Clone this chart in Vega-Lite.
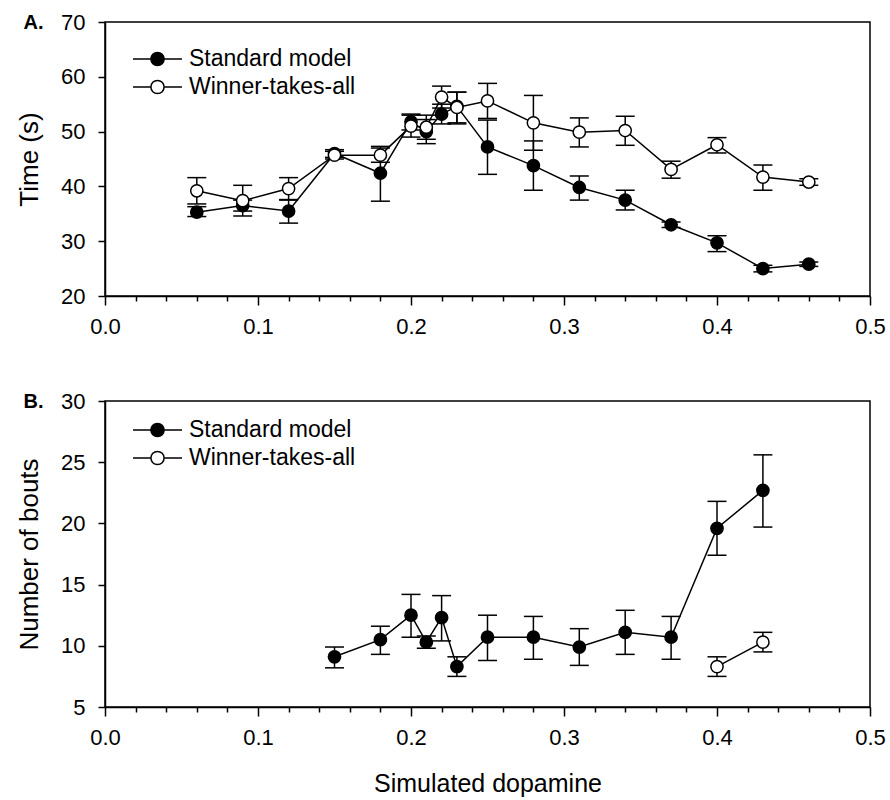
{
  "$schema": "https://vega.github.io/schema/vega-lite/v6.json",
  "padding": {"left": 15, "top": 10, "right": 5, "bottom": 0},
  "background": "white",
  "datasets": {
    "a": [
      {"dopamine": 0.06, "value": 35.3, "lo": 34.5, "hi": 36.3, "series": "Standard model"},
      {"dopamine": 0.09, "value": 36.5, "lo": 35.5, "hi": 37.5, "series": "Standard model"},
      {"dopamine": 0.12, "value": 35.5, "lo": 33.3, "hi": 37.5, "series": "Standard model"},
      {"dopamine": 0.15, "value": 46.0, "lo": 45.3, "hi": 46.7, "series": "Standard model"},
      {"dopamine": 0.18, "value": 42.4, "lo": 37.3, "hi": 47.3, "series": "Standard model"},
      {"dopamine": 0.20, "value": 51.8, "lo": 50.3, "hi": 53.2, "series": "Standard model"},
      {"dopamine": 0.21, "value": 50.0, "lo": 47.8, "hi": 52.2, "series": "Standard model"},
      {"dopamine": 0.22, "value": 53.2, "lo": 51.4, "hi": 55.0, "series": "Standard model"},
      {"dopamine": 0.23, "value": 54.6, "lo": 51.4, "hi": 57.2, "series": "Standard model"},
      {"dopamine": 0.25, "value": 47.2, "lo": 42.2, "hi": 52.1, "series": "Standard model"},
      {"dopamine": 0.28, "value": 43.8, "lo": 39.3, "hi": 48.3, "series": "Standard model"},
      {"dopamine": 0.31, "value": 39.8, "lo": 37.5, "hi": 41.9, "series": "Standard model"},
      {"dopamine": 0.34, "value": 37.5, "lo": 35.7, "hi": 39.3, "series": "Standard model"},
      {"dopamine": 0.37, "value": 33.0, "lo": 32.5, "hi": 33.5, "series": "Standard model"},
      {"dopamine": 0.40, "value": 29.7, "lo": 28.1, "hi": 31.0, "series": "Standard model"},
      {"dopamine": 0.43, "value": 25.0, "lo": 24.4, "hi": 25.6, "series": "Standard model"},
      {"dopamine": 0.46, "value": 25.8, "lo": 25.4, "hi": 26.2, "series": "Standard model"},
      {"dopamine": 0.06, "value": 39.2, "lo": 36.8, "hi": 41.6, "series": "Winner-takes-all"},
      {"dopamine": 0.09, "value": 37.4, "lo": 34.6, "hi": 40.2, "series": "Winner-takes-all"},
      {"dopamine": 0.12, "value": 39.6, "lo": 37.6, "hi": 41.6, "series": "Winner-takes-all"},
      {"dopamine": 0.15, "value": 45.7, "lo": 45.0, "hi": 46.4, "series": "Winner-takes-all"},
      {"dopamine": 0.18, "value": 45.7, "lo": 44.4, "hi": 47.0, "series": "Winner-takes-all"},
      {"dopamine": 0.20, "value": 51.0, "lo": 49.0, "hi": 53.0, "series": "Winner-takes-all"},
      {"dopamine": 0.21, "value": 50.8, "lo": 48.6, "hi": 53.0, "series": "Winner-takes-all"},
      {"dopamine": 0.22, "value": 56.3, "lo": 54.3, "hi": 58.3, "series": "Winner-takes-all"},
      {"dopamine": 0.23, "value": 54.4, "lo": 51.6, "hi": 57.2, "series": "Winner-takes-all"},
      {"dopamine": 0.25, "value": 55.6, "lo": 52.4, "hi": 58.8, "series": "Winner-takes-all"},
      {"dopamine": 0.28, "value": 51.6, "lo": 46.6, "hi": 56.6, "series": "Winner-takes-all"},
      {"dopamine": 0.31, "value": 49.9, "lo": 47.2, "hi": 52.5, "series": "Winner-takes-all"},
      {"dopamine": 0.34, "value": 50.2, "lo": 47.5, "hi": 52.8, "series": "Winner-takes-all"},
      {"dopamine": 0.37, "value": 43.1, "lo": 41.5, "hi": 44.6, "series": "Winner-takes-all"},
      {"dopamine": 0.40, "value": 47.6, "lo": 46.1, "hi": 48.9, "series": "Winner-takes-all"},
      {"dopamine": 0.43, "value": 41.7, "lo": 39.3, "hi": 43.9, "series": "Winner-takes-all"},
      {"dopamine": 0.46, "value": 40.8, "lo": 40.2, "hi": 41.4, "series": "Winner-takes-all"}
    ],
    "b": [
      {"dopamine": 0.15, "value": 9.1, "lo": 8.2, "hi": 9.9, "series": "Standard model"},
      {"dopamine": 0.18, "value": 10.5, "lo": 9.3, "hi": 11.6, "series": "Standard model"},
      {"dopamine": 0.20, "value": 12.5, "lo": 10.7, "hi": 14.2, "series": "Standard model"},
      {"dopamine": 0.21, "value": 10.3, "lo": 9.8, "hi": 10.8, "series": "Standard model"},
      {"dopamine": 0.22, "value": 12.3, "lo": 10.4, "hi": 14.1, "series": "Standard model"},
      {"dopamine": 0.23, "value": 8.3, "lo": 7.5, "hi": 9.1, "series": "Standard model"},
      {"dopamine": 0.25, "value": 10.7, "lo": 8.8, "hi": 12.5, "series": "Standard model"},
      {"dopamine": 0.28, "value": 10.7, "lo": 8.9, "hi": 12.4, "series": "Standard model"},
      {"dopamine": 0.31, "value": 9.9, "lo": 8.4, "hi": 11.4, "series": "Standard model"},
      {"dopamine": 0.34, "value": 11.1, "lo": 9.3, "hi": 12.9, "series": "Standard model"},
      {"dopamine": 0.37, "value": 10.7, "lo": 8.9, "hi": 12.4, "series": "Standard model"},
      {"dopamine": 0.40, "value": 19.6, "lo": 17.4, "hi": 21.8, "series": "Standard model"},
      {"dopamine": 0.43, "value": 22.7, "lo": 19.7, "hi": 25.6, "series": "Standard model"},
      {"dopamine": 0.40, "value": 8.3, "lo": 7.5, "hi": 9.1, "series": "Winner-takes-all"},
      {"dopamine": 0.43, "value": 10.3, "lo": 9.5, "hi": 11.1, "series": "Winner-takes-all"}
    ]
  },
  "vconcat": [
    {
      "width": 765,
      "height": 274,
      "data": {"name": "a"},
      "title": {"text": "A.", "anchor": "start", "frame": "bounds", "fontSize": 20, "fontWeight": "bold", "offset": -22, "dx": 7},
      "encoding": {
        "x": {"field": "dopamine", "type": "quantitative", "scale": {"domain": [0, 0.5], "nice": false, "zero": false},
          "axis": {"title": null, "values": [0,0.02,0.04,0.06,0.08,0.1,0.12,0.14,0.16,0.18,0.2,0.22,0.24,0.26,0.28,0.3,0.32,0.34,0.36,0.38,0.4,0.42,0.44,0.46,0.48,0.5],
            "labelExpr": "abs(datum.value*10 - round(datum.value*10)) < 0.001 ? format(datum.value, '.1f') : ''",
            "tickSize": {"condition": {"test": "abs(datum.value*10 - round(datum.value*10)) < 0.001", "value": 9}, "value": 5}}}
      },
      "layer": [
        {"transform": [{"filter": "datum.series == 'Standard model'"}], "mark": {"type": "line", "color": "black", "strokeWidth": 1.5},
          "encoding": {"y": {"field": "value", "type": "quantitative", "scale": {"domain": [20, 70], "nice": false, "zero": false},
            "axis": {"title": "Time (s)", "values": [20,30,40,50,60,70]}}}},
        {"transform": [{"filter": "datum.series == 'Winner-takes-all'"}], "mark": {"type": "line", "color": "black", "strokeWidth": 1.5},
          "encoding": {"y": {"field": "value", "type": "quantitative"}}},
        {"transform": [{"filter": "datum.series == 'Standard model'"}], "mark": {"type": "rule", "color": "black", "strokeWidth": 1.5},
          "encoding": {"y": {"field": "lo", "type": "quantitative"}, "y2": {"field": "hi"}}},
        {"transform": [{"filter": "datum.series == 'Standard model'"}], "mark": {"type": "tick", "orient": "horizontal", "color": "black", "size": 19, "thickness": 1.5, "opacity": 1},
          "encoding": {"y": {"field": "lo", "type": "quantitative"}}},
        {"transform": [{"filter": "datum.series == 'Standard model'"}], "mark": {"type": "tick", "orient": "horizontal", "color": "black", "size": 19, "thickness": 1.5, "opacity": 1},
          "encoding": {"y": {"field": "hi", "type": "quantitative"}}},
        {"transform": [{"filter": "datum.series == 'Standard model'"}], "mark": {"type": "point", "shape": "circle", "filled": false, "stroke": "black", "strokeWidth": 1.5, "size": 150, "opacity": 1},
          "encoding": {"y": {"field": "value", "type": "quantitative"},
            "fill": {"field": "series", "type": "nominal", "scale": {"domain": ["Standard model", "Winner-takes-all"], "range": ["black", "white"]},
              "legend": {"title": null, "orient": "none", "legendX": 27, "legendY": 23}}}},
        {"transform": [{"filter": "datum.series == 'Winner-takes-all'"}], "mark": {"type": "rule", "color": "black", "strokeWidth": 1.5},
          "encoding": {"y": {"field": "lo", "type": "quantitative"}, "y2": {"field": "hi"}}},
        {"transform": [{"filter": "datum.series == 'Winner-takes-all'"}], "mark": {"type": "tick", "orient": "horizontal", "color": "black", "size": 19, "thickness": 1.5, "opacity": 1},
          "encoding": {"y": {"field": "lo", "type": "quantitative"}}},
        {"transform": [{"filter": "datum.series == 'Winner-takes-all'"}], "mark": {"type": "tick", "orient": "horizontal", "color": "black", "size": 19, "thickness": 1.5, "opacity": 1},
          "encoding": {"y": {"field": "hi", "type": "quantitative"}}},
        {"transform": [{"filter": "datum.series == 'Winner-takes-all'"}], "mark": {"type": "point", "shape": "circle", "filled": false, "stroke": "black", "strokeWidth": 1.5, "size": 150, "opacity": 1},
          "encoding": {"y": {"field": "value", "type": "quantitative"},
            "fill": {"field": "series", "type": "nominal"}}}
      ]
    },
    {
      "width": 765,
      "height": 306,
      "data": {"name": "b"},
      "title": {"text": "B.", "anchor": "start", "frame": "bounds", "fontSize": 20, "fontWeight": "bold", "offset": -22, "dx": 7},
      "encoding": {
        "x": {"field": "dopamine", "type": "quantitative", "scale": {"domain": [0, 0.5], "nice": false, "zero": false},
          "axis": {"title": "Simulated dopamine", "values": [0,0.02,0.04,0.06,0.08,0.1,0.12,0.14,0.16,0.18,0.2,0.22,0.24,0.26,0.28,0.3,0.32,0.34,0.36,0.38,0.4,0.42,0.44,0.46,0.48,0.5],
            "labelExpr": "abs(datum.value*10 - round(datum.value*10)) < 0.001 ? format(datum.value, '.1f') : ''",
            "tickSize": {"condition": {"test": "abs(datum.value*10 - round(datum.value*10)) < 0.001", "value": 9}, "value": 5}}}
      },
      "layer": [
        {"transform": [{"filter": "datum.series == 'Standard model'"}], "mark": {"type": "line", "color": "black", "strokeWidth": 1.5},
          "encoding": {"y": {"field": "value", "type": "quantitative", "scale": {"domain": [5, 30], "nice": false, "zero": false},
            "axis": {"title": "Number of bouts", "values": [5,10,15,20,25,30]}}}},
        {"transform": [{"filter": "datum.series == 'Winner-takes-all'"}], "mark": {"type": "line", "color": "black", "strokeWidth": 1.5},
          "encoding": {"y": {"field": "value", "type": "quantitative"}}},
        {"transform": [{"filter": "datum.series == 'Standard model'"}], "mark": {"type": "rule", "color": "black", "strokeWidth": 1.5},
          "encoding": {"y": {"field": "lo", "type": "quantitative"}, "y2": {"field": "hi"}}},
        {"transform": [{"filter": "datum.series == 'Standard model'"}], "mark": {"type": "tick", "orient": "horizontal", "color": "black", "size": 19, "thickness": 1.5, "opacity": 1},
          "encoding": {"y": {"field": "lo", "type": "quantitative"}}},
        {"transform": [{"filter": "datum.series == 'Standard model'"}], "mark": {"type": "tick", "orient": "horizontal", "color": "black", "size": 19, "thickness": 1.5, "opacity": 1},
          "encoding": {"y": {"field": "hi", "type": "quantitative"}}},
        {"transform": [{"filter": "datum.series == 'Standard model'"}], "mark": {"type": "point", "shape": "circle", "filled": false, "stroke": "black", "strokeWidth": 1.5, "size": 150, "opacity": 1},
          "encoding": {"y": {"field": "value", "type": "quantitative"},
            "fill": {"field": "series", "type": "nominal", "scale": {"domain": ["Standard model", "Winner-takes-all"], "range": ["black", "white"]},
              "legend": {"title": null, "orient": "none", "legendX": 27, "legendY": 15}}}},
        {"transform": [{"filter": "datum.series == 'Winner-takes-all'"}], "mark": {"type": "rule", "color": "black", "strokeWidth": 1.5},
          "encoding": {"y": {"field": "lo", "type": "quantitative"}, "y2": {"field": "hi"}}},
        {"transform": [{"filter": "datum.series == 'Winner-takes-all'"}], "mark": {"type": "tick", "orient": "horizontal", "color": "black", "size": 19, "thickness": 1.5, "opacity": 1},
          "encoding": {"y": {"field": "lo", "type": "quantitative"}}},
        {"transform": [{"filter": "datum.series == 'Winner-takes-all'"}], "mark": {"type": "tick", "orient": "horizontal", "color": "black", "size": 19, "thickness": 1.5, "opacity": 1},
          "encoding": {"y": {"field": "hi", "type": "quantitative"}}},
        {"transform": [{"filter": "datum.series == 'Winner-takes-all'"}], "mark": {"type": "point", "shape": "circle", "filled": false, "stroke": "black", "strokeWidth": 1.5, "size": 150, "opacity": 1},
          "encoding": {"y": {"field": "value", "type": "quantitative"},
            "fill": {"field": "series", "type": "nominal"}}}
      ]
    }
  ],
  "spacing": 51,
  "resolve": {"scale": {"fill": "independent", "y": "independent"}, "legend": {"fill": "independent"}},
  "config": {
    "font": "Liberation Sans",
    "view": {"stroke": "black", "strokeWidth": 1.5},
    "title": {"color": "black", "font": "Liberation Sans"},
    "axis": {
      "domainColor": "black", "domainWidth": 1.5, "tickColor": "black", "tickWidth": 1.5,
      "labelColor": "black", "labelFontSize": 22, "labelFont": "Liberation Sans",
      "titleColor": "black", "titleFontSize": 26, "titleFontWeight": "normal", "titleFont": "Liberation Sans",
      "grid": false, "labelFlush": false, "labelOverlap": false
    },
    "axisY": {"tickSize": 7, "labelPadding": 13, "titlePadding": 18},
    "axisX": {"labelPadding": 11, "titlePadding": 23, "titleFontSize": 25},
    "legend": {
      "symbolType": "M-1,0L-0.27,0M0.27,0L1,0M-0.27,0A0.27,0.27 0 1,0 0.27,0A0.27,0.27 0 1,0 -0.27,0Z",
      "symbolSize": 2400, "symbolStrokeColor": "black", "symbolStrokeWidth": 1.5, "symbolOpacity": 1,
      "labelFontSize": 23, "labelColor": "black", "labelFont": "Liberation Sans", "labelOffset": 6, "labelLimit": 400,
      "rowPadding": 0, "clipHeight": 28
    }
  }
}
